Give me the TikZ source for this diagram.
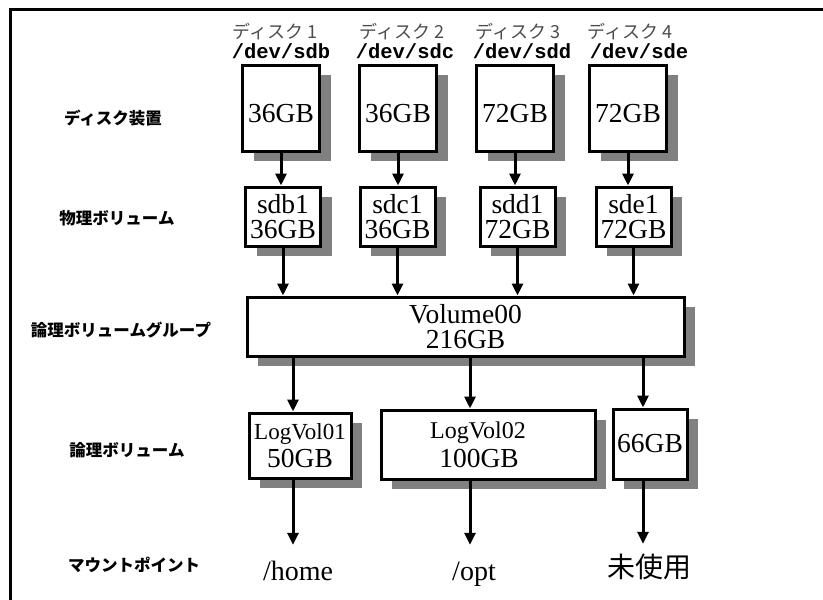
\documentclass[tikz,border=0pt]{standalone}
\usepackage{fontspec}
\setmainfont{Liberation Serif}
\setmonofont{Liberation Mono}
\newfontfamily\jpfont{Noto Sans CJK JP}
\usetikzlibrary{arrows.meta, positioning, shadows}

\begin{document}
\begin{tikzpicture}[
  x=1pt, y=-1pt,
  box/.style={draw, line width=3pt, fill=white, inner sep=0pt, align=center,
              font=\fontsize{27.5}{25}\selectfont,
              drop shadow={shadow xshift=11pt, shadow yshift=-10pt,
                           fill=black!50, opacity=1}},
  diskbox/.style={box, minimum width=77pt, minimum height=86pt,
                  text height=29pt, text depth=0pt},
  arr/.style={-{Triangle[length=12pt, width=11pt]}, line width=3pt},
  rowlabel/.style={font=\jpfont\bfseries\fontsize{16.5}{18}\selectfont},
  disklabel/.style={font=\jpfont\fontsize{18}{20}\selectfont, text=black!70},
  devlabel/.style={font=\ttfamily\bfseries\fontsize{20.5}{22}\selectfont},
  mount/.style={font=\fontsize{28}{30}\selectfont, anchor=base, inner sep=0pt,
                text height=20pt, text depth=6pt}
]
  \useasboundingbox (0,0) rectangle (823,600);
  \draw[line width=3pt] (10,630) -- (10,9) -- (850,9);

  % row labels
  \node[rowlabel] (lbdisk) at (113,118) {ディスク装置};
  \node[rowlabel] (lbpv) at (117,218) {物理ボリューム};
  \node[rowlabel] (lbvg) at (121,330) {論理ボリュームグループ};
  \node[rowlabel] (lblv) at (127,450) {論理ボリューム};
  \node[rowlabel] (lbmount) at (134,565) {マウントポイント};

  % disks
  \node[disklabel] (dl1) at (275,32) {ディスク 1};
  \node[disklabel] (dl2) at (402,32) {ディスク 2};
  \node[disklabel] (dl3) at (518,32) {ディスク 3};
  \node[disklabel] (dl4) at (630,32) {ディスク 4};
  \node[devlabel] (dev1) at (281,51) {/dev/sdb};
  \node[devlabel] (dev2) at (405,51) {/dev/sdc};
  \node[devlabel] (dev3) at (522,51) {/dev/sdd};
  \node[devlabel] (dev4) at (639,51) {/dev/sde};

  \node[diskbox] (disk1) at (281,108) {36GB};
  \node[diskbox] (disk2) at (398,108) {36GB};
  \node[diskbox] (disk3) at (515,108) {72GB};
  \node[diskbox] (disk4) at (628,108) {72GB};

  % physical volumes
  \node[box, minimum width=75pt, minimum height=59pt] (pv1) at (283,216.5) {sdb1\\36GB};
  \node[box, minimum width=75pt, minimum height=59pt] (pv2) at (397.5,216.5) {sdc1\\36GB};
  \node[box, minimum width=75pt, minimum height=59pt] (pv3) at (517.5,216.5) {sdd1\\72GB};
  \node[box, minimum width=75pt, minimum height=59pt] (pv4) at (633.5,216.5) {sde1\\72GB};

  % volume group
  \node[box, minimum width=437pt, minimum height=59pt] (vg) at (465.5,326.5) {Volume00\\216GB};

  % logical volumes
  \node[box, minimum width=102pt, minimum height=65pt] (lv1) at (300,445.5)
    {{\fontsize{23}{24}\selectfont LogVol01}\\[3pt]50GB};
  \node[box, minimum width=214pt, minimum height=69pt] (lv2) at (488,444.5)
    {{\fontsize{24}{24}\selectfont LogVol02}\hspace*{20pt}\\[4pt]100GB\hspace*{18pt}};
  \node[box, minimum width=74pt, minimum height=70pt] (lv3) at (650,444) {66GB};

  % mount points
  \node[mount] (m1) at (298,580) {/home};
  \node[mount] (m2) at (474,580) {/opt};
  \node[mount, font=\jpfont\fontsize{28}{30}\selectfont] (m3) at (649,577) {未使用};

  \coordinate (c1) at (293,0);
  \coordinate (c2) at (470,0);
  \coordinate (c3) at (643,0);

  \draw[arr] (disk1.south) -- (disk1.south |- pv1.north);
  \draw[arr] (disk2.south) -- (disk2.south |- pv2.north);
  \draw[arr] (disk3.south) -- (disk3.south |- pv3.north);
  \draw[arr] (disk4.south) -- (disk4.south |- pv4.north);

  \draw[arr] (pv1.south) -- (pv1.south |- vg.north);
  \draw[arr] (pv2.south) -- (pv2.south |- vg.north);
  \draw[arr] (pv3.south) -- (pv3.south |- vg.north);
  \draw[arr] (pv4.south) -- (pv4.south |- vg.north);

  \draw[arr] (vg.south -| c1) -- (lv1.north -| c1);
  \draw[arr] (vg.south -| c2) -- (lv2.north -| c2);
  \draw[arr] (vg.south -| c3) -- (lv3.north -| c3);

  \draw[arr, shorten >=15pt] (lv1.south -| c1) -- (m1.north -| c1);
  \draw[arr, shorten >=15pt] (lv2.south -| c2) -- (m2.north -| c2);
  \draw[arr, shorten >=13pt] (lv3.south -| c3) -- (m3.north -| c3);
\end{tikzpicture}
\end{document}
